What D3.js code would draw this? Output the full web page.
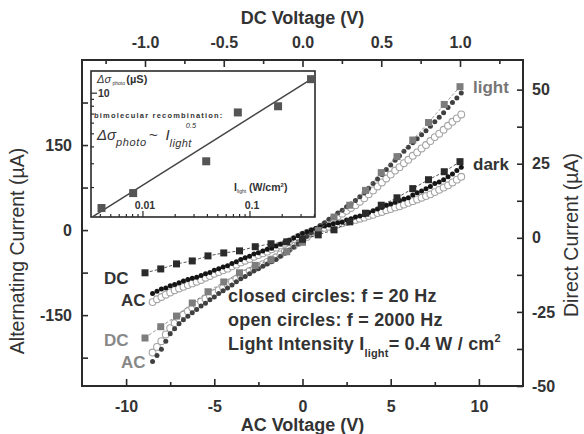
<!DOCTYPE html>
<html>
<head>
<meta charset="utf-8">
<script src="https://cdn.jsdelivr.net/npm/d3@7"></script>
<style>
body { margin: 0; background: #fff; }
svg { font-family: "Liberation Sans", Arial, sans-serif; }
</style>
</head>
<body>
<svg id="chart" width="584" height="434"></svg>
<script>
// AC sweep (bottom / left axes)
const acV = [-8.5,-8.25,-8,-7.75,-7.5,-7.25,-7,-6.75,-6.5,-6.25,-6,-5.75,-5.5,-5.25,-5,-4.75,-4.5,-4.25,-4,-3.75,
  -3.5,-3.25,-3,-2.75,-2.5,-2.25,-2,-1.75,-1.5,-1.25,-1,-0.75,-0.5,-0.25,0,0.25,0.5,0.75,1,1.25,
  1.5,1.75,2,2.25,2.5,2.75,3,3.25,3.5,3.75,4,4.25,4.5,4.75,5,5.25,5.5,5.75,6,6.25,
  6.5,6.75,7,7.25,7.5,7.75,8,8.25,8.5,8.75,9]
const dark20 = [-112,-108,-104,-102,-98,-96,-93,-90,-87,-85,-83,-80,-77,-75,-71,-68,-65,-63,-59,-56,
  -52,-49,-46,-42,-40,-37,-34,-32,-28,-25,-22,-18,-14,-10,-6,-3,0,3,5,7,
  9,11,13,14,18,20,23,25,27,31,34,37,40,44,46,49,52,55,57,62,
  66,69,73,77,82,85,89,94,99,105,111]
const dark2000 = [-127,-122,-118,-114,-110,-106,-103,-100,-97,-94,-91,-88,-84,-81,-77,-74,-71,-68,-64,-61,
  -57,-54,-51,-47,-44,-41,-38,-34,-31,-27,-24,-20,-16,-12,-8,-5,-2,0,2,4,
  6,8,10,12,14,16,18,20,22,25,27,30,32,35,37,40,42,45,48,51,
  54,57,60,63,67,71,75,79,84,89,94]
const light20 = [-232,-221,-210,-196,-183,-174,-165,-158,-152,-146,-140,-134,-129,-123,-118,-112,-107,-102,-97,-91,
  -86,-82,-77,-72,-68,-64,-60,-56,-52,-46,-41,-35,-30,-24,-18,-11,-5,2,8,13,
  19,24,30,35,41,46,52,59,66,74,82,90,98,107,115,123,131,139,146,154,
  161,168,175,183,191,199,207,216,225,233,242]
const light2000 = [-216,-206,-196,-184,-173,-164,-156,-149,-143,-137,-132,-126,-121,-116,-111,-106,-101,-96,-91,-86,
  -81,-76,-72,-68,-64,-60,-56,-52,-48,-43,-38,-33,-28,-23,-17,-12,-6,-1,4,9,
  14,19,24,29,34,39,44,50,56,63,70,77,84,91,98,105,111,118,124,131,
  137,144,150,157,164,170,177,184,191,197,204]

// DC sweep (top / right axes)
const dcV = [-1,-0.9,-0.8,-0.7,-0.6,-0.5,-0.4,-0.3,-0.2,-0.1,0,0.1,0.2,0.3,0.4,0.5,0.6,0.7,0.8,0.9,1]
const dcDark = [-11.8,-10.5,-8.8,-7.8,-6.1,-5.1,-4.4,-3.0,-2.0,-1.35,-0.5,1.0,2.7,5.4,8.3,11,13.5,16.6,19.6,22.3,25.7]
const dcLight = [-33.8,-30,-26.4,-22,-18.2,-14.9,-11.8,-9.3,-7.4,-4.7,-1.5,2.5,7,11,16,22,27.4,33,38.9,45,51]

// inset: photoconductivity vs light intensity
const insetI = [0.0041, 0.0081, 0.039, 0.077, 0.183, 0.372]
const insetSigma = [1.41, 1.82, 3.13, 7.2, 8.0, 12.7]
const fitI = [0.0034, 0.39]
const fitSigma = [1.22, 13.0]

// ticks
const acMajor = [-10, -5, 0, 5, 10], acMinor = [-7.5, -2.5, 2.5, 7.5]
const dcMajor = [-1, -0.5, 0, 0.5, 1], dcMinor = [-1.25, -0.75, -0.25, 0.25, 0.75, 1.25]
const iacTicks = [-225, -150, -75, 0, 75, 150, 225], iacLabels = [-150, 0, 150]
const idcTicks = [-50, -37.5, -25, -12.5, 0, 12.5, 25, 37.5, 50], idcLabels = [-50, -25, 0, 25, 50]

const m = {left: 82, right: 523, top: 60, bottom: 386}
const ink = "#2a2a2a"
const svg = d3.select("#chart")

const xAC = d3.scaleLinear().domain([-12.5, 12.5]).range([m.left, m.right])
const xDC = d3.scaleLinear().domain([-1.4, 1.4]).range([m.left, m.right])
const yAC = d3.scaleLinear().domain([-275, 300]).range([m.bottom, m.top])
const yDC = d3.scaleLinear().domain([-50, 60]).range([m.bottom, m.top])

function styleAxis(g, size) {
    g.select(".domain").remove()
    g.selectAll("line").attr("stroke", ink).attr("stroke-width", 1.6)
    g.selectAll("text").attr("fill", "#333").style("font-size", size + "px").style("font-weight", "bold")
}

// bottom
svg.append("g").attr("transform", `translate(0,${m.bottom})`)
    .call(d3.axisBottom(xAC).tickValues(acMajor).tickSize(-7).tickPadding(15).tickFormat(d => String(d)))
    .call(g => styleAxis(g, 16))
svg.append("g").attr("transform", `translate(0,${m.bottom})`)
    .call(d3.axisBottom(xAC).tickValues(acMinor).tickSize(-4).tickFormat(""))
    .call(g => styleAxis(g, 16))
// top
svg.append("g").attr("transform", `translate(0,${m.top})`)
    .call(d3.axisTop(xDC).tickValues(dcMajor).tickSize(-7).tickPadding(12).tickFormat(d => d.toFixed(1)))
    .call(g => styleAxis(g, 16))
svg.append("g").attr("transform", `translate(0,${m.top})`)
    .call(d3.axisTop(xDC).tickValues(dcMinor).tickSize(-4).tickFormat(""))
    .call(g => styleAxis(g, 16))
// left
svg.append("g").attr("transform", `translate(${m.left},0)`)
    .call(d3.axisLeft(yAC).tickValues(iacTicks).tickSize(-6).tickPadding(10)
        .tickFormat(d => iacLabels.includes(d) ? String(d) : ""))
    .call(g => styleAxis(g, 16))
// right
svg.append("g").attr("transform", `translate(${m.right},0)`)
    .call(d3.axisRight(yDC).tickValues(idcTicks).tickSize(-6).tickPadding(9)
        .tickFormat(d => idcLabels.includes(d) ? String(d) : ""))
    .call(g => styleAxis(g, 16))

// frame
svg.append("rect")
    .attr("x", m.left).attr("y", m.top)
    .attr("width", m.right - m.left).attr("height", m.bottom - m.top)
    .attr("fill", "none").attr("stroke", ink).attr("stroke-width", 2)

// axis titles
svg.append("text").attr("x", xAC(0)).attr("y", 431).attr("text-anchor", "middle")
    .style("font-size", "18px").style("font-weight", "bold").attr("fill", "#333").text("AC Voltage (V)")
svg.append("text").attr("x", xDC(0)).attr("y", 24).attr("text-anchor", "middle")
    .style("font-size", "18px").style("font-weight", "bold").attr("fill", "#333").text("DC Voltage (V)")
svg.append("text").attr("transform", "translate(24,251) rotate(-90)").attr("text-anchor", "middle")
    .style("font-size", "19.5px").attr("fill", "#333").text("Alternating Current (\u00b5A)")
svg.append("text").attr("transform", "translate(578,235) rotate(-90)").attr("text-anchor", "middle")
    .style("font-size", "19.5px").attr("fill", "#333").text("Direct Current (\u00b5A)")

// AC scatter
const plot = svg.append("g")
function openCircles(vals) {
    plot.append("g").selectAll("circle").data(vals).join("circle")
        .attr("cx", (d, i) => xAC(acV[i])).attr("cy", d => yAC(d)).attr("r", 3.4)
        .attr("fill", "#fff").attr("stroke", "#a4a4a4").attr("stroke-width", 1.1)
}
function closedDots(vals, color) {
    plot.append("g").selectAll("circle").data(vals).join("circle")
        .attr("cx", (d, i) => xAC(acV[i])).attr("cy", d => yAC(d)).attr("r", 2.5)
        .attr("fill", color)
}
openCircles(light2000)
openCircles(dark2000)
closedDots(light20, "#404040")
closedDots(dark20, "#151515")

// DC squares
function dcSeries(vals, color) {
    const line = d3.line().x((d, i) => xDC(dcV[i])).y(d => yDC(d))
    plot.append("path").datum(vals).attr("d", line)
        .attr("fill", "none").attr("stroke", color).attr("stroke-width", 0.8).attr("stroke-dasharray", "3,2")
    plot.append("g").selectAll("rect").data(vals).join("rect")
        .attr("x", (d, i) => xDC(dcV[i]) - 3.5).attr("y", d => yDC(d) - 3.5)
        .attr("width", 7).attr("height", 7).attr("fill", color)
}
dcSeries(dcLight, "#7d7d7d")
dcSeries(dcDark, "#2b2b2b")

// curve labels
function label(x, y, txt, color) {
    svg.append("text").attr("x", x).attr("y", y).text(txt)
        .style("font-size", "17px").style("font-weight", "bold").attr("fill", color)
}
label(473, 93, "light", "#777")
label(473, 170, "dark", "#333")
label(104, 284, "DC", "#333")
label(121, 306, "AC", "#333")
label(104, 346, "DC", "#888")
label(121, 368, "AC", "#888")

// legend text
const leg = svg.append("g").attr("fill", "#333").style("font-size", "18px")
    .style("font-weight", "bold").style("letter-spacing", "0.2px")
leg.append("text").attr("x", 228).attr("y", 302).text("closed circles: f = 20 Hz")
leg.append("text").attr("x", 228).attr("y", 326).text("open circles: f = 2000 Hz")
const l3 = leg.append("text").attr("x", 228).attr("y", 350)
l3.append("tspan").text("Light Intensity I")
l3.append("tspan").attr("dy", 7).style("font-size", "11px").text("light")
l3.append("tspan").attr("dy", -7).text("= 0.4 W / cm")
l3.append("tspan").attr("dy", -8).style("font-size", "11px").text("2")

// inset
const ib = {left: 91, right: 315, top: 71, bottom: 217}
const ix = d3.scaleLog().domain([0.00327, 0.405]).range([ib.left, ib.right])
const iy = d3.scaleLog().domain([1.21, 14.6]).range([ib.bottom, ib.top])
const inset = svg.append("g")
inset.append("rect").attr("x", ib.left).attr("y", ib.top)
    .attr("width", ib.right - ib.left).attr("height", ib.bottom - ib.top)
    .attr("fill", "#fff").attr("stroke", ink).attr("stroke-width", 1.6)

const ixMajor = [0.01, 0.1]
const ixMinor = [0.004,0.005,0.006,0.007,0.008,0.009,0.02,0.03,0.04,0.05,0.06,0.07,0.08,0.09,0.2,0.3,0.4]
const iyMajor = [10]
const iyMinor = [2,3,4,5,6,7,8,9]
inset.append("g").selectAll("line").data(ixMajor.concat(ixMinor)).join("line")
    .attr("x1", d => ix(d)).attr("x2", d => ix(d))
    .attr("y1", ib.bottom).attr("y2", d => ib.bottom - (ixMajor.includes(d) ? 6 : 3))
    .attr("stroke", ink).attr("stroke-width", 1.2)
inset.append("g").selectAll("line").data(iyMajor.concat(iyMinor)).join("line")
    .attr("y1", d => iy(d)).attr("y2", d => iy(d))
    .attr("x1", ib.left).attr("x2", d => ib.left + (iyMajor.includes(d) ? 6 : 3))
    .attr("stroke", ink).attr("stroke-width", 1.2)

const itext = inset.append("g").attr("fill", "#333").style("font-weight", "bold")
itext.selectAll(".xl").data(ixMajor).join("text")
    .attr("x", d => ix(d) + 2).attr("y", ib.bottom - 8).attr("text-anchor", "middle")
    .style("font-size", "10.5px").text(d => String(d))
itext.append("text").attr("x", ib.left + 7).attr("y", iy(10) + 4)
    .style("font-size", "10.5px").text("10")

const t1 = itext.append("text").attr("x", 97).attr("y", 83).style("font-size", "11px")
t1.append("tspan").style("font-style", "italic").style("font-weight", "normal").text("\u0394\u03c3")
t1.append("tspan").attr("dy", 2).style("font-size", "5px").style("font-weight", "normal").text(" photo ")
t1.append("tspan").attr("dy", -2).text(" (\u00b5S)")

itext.append("text").attr("x", 94).attr("y", 118).style("font-size", "7.5px")
    .style("letter-spacing", "1.2px").text("bimolecular recombination:")

const t2 = itext.append("text").attr("x", 97).attr("y", 140)
    .style("font-style", "italic").style("font-weight", "normal").style("font-size", "15px")
t2.append("tspan").text("\u0394\u03c3")
t2.append("tspan").attr("dy", 6).style("font-size", "11px").style("letter-spacing", "0.6px").text("photo")
t2.append("tspan").attr("dy", -6).attr("dx", 2).text("~")
t2.append("tspan").attr("dx", 8).text("I")
t2.append("tspan").attr("dy", 7).style("font-size", "11px").style("letter-spacing", "0.4px").text("light")
t2.append("tspan").attr("dy", -19).attr("dx", -6).style("font-size", "7.5px").text("0.5")

const t3 = itext.append("text").attr("x", 234).attr("y", 191).style("font-size", "10.5px")
t3.append("tspan").text("I")
t3.append("tspan").attr("dy", 2).style("font-size", "5px").style("font-weight", "normal").text("light")
t3.append("tspan").attr("dy", -2).text(" (W/cm")
t3.append("tspan").attr("dy", -4).style("font-size", "6px").text("2")
t3.append("tspan").attr("dy", 4).text(")")

inset.append("path").datum(fitI)
    .attr("d", d3.line().x(d => ix(d)).y((d, i) => iy(fitSigma[i])))
    .attr("stroke", "#444").attr("stroke-width", 1.5).attr("fill", "none")
inset.append("g").selectAll("rect").data(insetI).join("rect")
    .attr("x", d => ix(d) - 4).attr("y", (d, i) => iy(insetSigma[i]) - 4)
    .attr("width", 8).attr("height", 8).attr("fill", "#555")
</script>
</body>
</html>
